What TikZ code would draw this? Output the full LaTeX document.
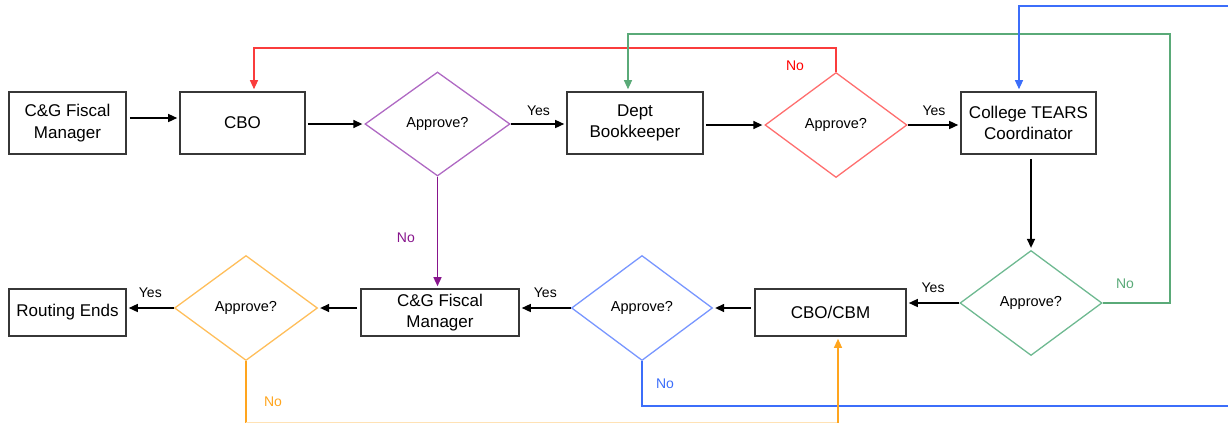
\documentclass[tikz,border=0pt]{standalone}
\usepackage{fontspec}
\setmainfont{Liberation Sans}
\usetikzlibrary{shapes.geometric,arrows.meta,calc}
\definecolor{boxline}{RGB}{55,55,55}
\definecolor{purpD}{RGB}{175,105,195}
\definecolor{purpL}{RGB}{135,20,140}
\definecolor{redD}{RGB}{255,110,110}
\definecolor{redL}{RGB}{250,60,60}
\definecolor{greenD}{RGB}{110,185,145}
\definecolor{greenL}{RGB}{90,170,120}
\definecolor{blueD}{RGB}{120,150,255}
\definecolor{blueL}{RGB}{60,110,250}
\definecolor{orangeD}{RGB}{255,190,90}
\definecolor{orangeL}{RGB}{255,165,30}
\tikzset{
  procbox/.style={draw=boxline, line width=1.6pt, inner sep=0pt, align=center,
    font=\fontsize{17}{21.5}\selectfont},
  decision/.style={diamond, draw=#1, line width=1.3pt, inner sep=0pt,
    minimum width=142pt, minimum height=105pt, font=\fontsize{14.5}{16}\selectfont},
  flow/.style={line width=1.4pt, -{Triangle[length=9pt,width=8pt]}, shorten >=2pt},
  lbl/.style={font=\fontsize{14}{16}\selectfont, inner sep=0pt}
}
\begin{document}
\begin{tikzpicture}[x=1pt,y=1pt]
\useasboundingbox (0,0) rectangle (1228,-424);
% top row
\node[procbox, minimum width=117pt, minimum height=62pt] (cg1) at (67.5,-123) {C\&G Fiscal\\Manager};
\node[procbox, minimum width=125pt, minimum height=62pt] (cbo) at (242.5,-123) {CBO};
\node[decision=purpD, minimum width=145pt, minimum height=104pt] (d1) at (437.5,-124) {Approve?};
\node[procbox, minimum width=136pt, minimum height=62pt] (dept) at (635,-123) {Dept\\Bookkeeper};
\node[decision=redD] (d2) at (836,-125) {Approve?};
\node[procbox, minimum width=135pt, minimum height=62pt] (tears) at (1028.5,-123) {College TEARS\\Coordinator};
% bottom row
\node[decision=greenD] (d3) at (1031,-303) {Approve?};
\node[procbox, minimum width=151pt, minimum height=47pt] (cbm) at (830.5,-312.5) {CBO/CBM};
\node[decision=blueD, minimum width=141pt] (d4) at (642,-308) {Approve?};
\node[procbox, minimum width=158pt, minimum height=47pt] (cg2) at (440,-312.5) {C\&G Fiscal\\Manager};
\node[decision=orangeD, minimum width=143pt] (d5) at (246,-308) {Approve?};
\node[procbox, minimum width=117pt, minimum height=47pt] (re) at (67.5,-312.5) {Routing Ends};
% black flow
\draw[flow] ($(cg1.east)+(3,5)$) -- ($(cbo.west)+(0,5)$);
\draw[flow] ($(cbo.east |- d1.west)+(2,0)$) -- (d1.west);
\draw[flow] (d1.east) -- (d1.east -| dept.west) node[lbl, midway, above=8pt] {Yes};
\draw[flow] ($(dept.east |- d2.west)+(2,0)$) -- (d2.west);
\draw[flow] (d2.east) -- (d2.east -| tears.west) node[lbl, midway, above=9pt] {Yes};
\draw[flow] ($(d3.north |- tears.south)+(0,-4)$) -- (d3.north);
\draw[flow] (d3.west) -- (d3.west -| cbm.east) node[lbl, midway, above=10pt] {Yes};
\draw[flow] ($(cbm.west |- d4.east)+(-3,0)$) -- (d4.east);
\draw[flow] (d4.west) -- (d4.west -| cg2.east) node[lbl, midway, above=10pt] {Yes};
\draw[flow] ($(cg2.west |- d5.east)+(-3,0)$) -- (d5.east);
\draw[flow] (d5.west) -- (d5.west -| re.east) node[lbl, midway, above=10pt] {Yes};
% purple No
\draw[flow, draw=purpL] (d1.south) -- (d1.south |- cg2.north) node[lbl, text=purpL, pos=0.55, left=22pt] {No};
% red No
\coordinate (r1) at (836,-48);
\coordinate (r2) at (254,-48);
\draw[flow, draw=redL, line width=1.2pt] (d2.north) -- (r1) -- (r2) -- (r2 |- cbo.north);
\node[lbl, text=red] (rno) at (795,-66) {No};
% green No
\coordinate (g1) at (1170,-303);
\coordinate (g2) at (1170,-34);
\coordinate (g3) at (628,-34);
\draw[flow, draw=greenL, line width=1.2pt] (d3.east) -- (g1) -- (g2) -- (g3) -- (g3 |- dept.north);
\node[lbl, text=greenL] (gno) at (1125,-284) {No};
% blue No
\coordinate (b1) at (642,-406);
\coordinate (b2) at (1228,-406);
\draw[draw=blueL, line width=1.2pt] (d4.south) -- (b1) -- (b2);
\node[lbl, text=blueL] (bno) at (665,-384) {No};
\coordinate (b3) at (1228,-6);
\coordinate (b4) at (1019,-6);
\draw[flow, draw=blueL, line width=1.2pt] (b3) -- (b4) -- (b4 |- tears.north);
% orange No
\coordinate (o1) at (246,-422.5);
\coordinate (o2) at (838,-422.5);
\draw[draw=orangeL, line width=1.2pt] (d5.south) -- (o1);
\draw[draw=orangeD!45, line width=1.2pt] (o1) -- (o2);
\draw[flow, draw=orangeL, line width=1.2pt] (o2) -- (o2 |- cbm.south);
\node[lbl, text=orangeL] (ono) at (273,-402) {No};
\end{tikzpicture}
\end{document}
